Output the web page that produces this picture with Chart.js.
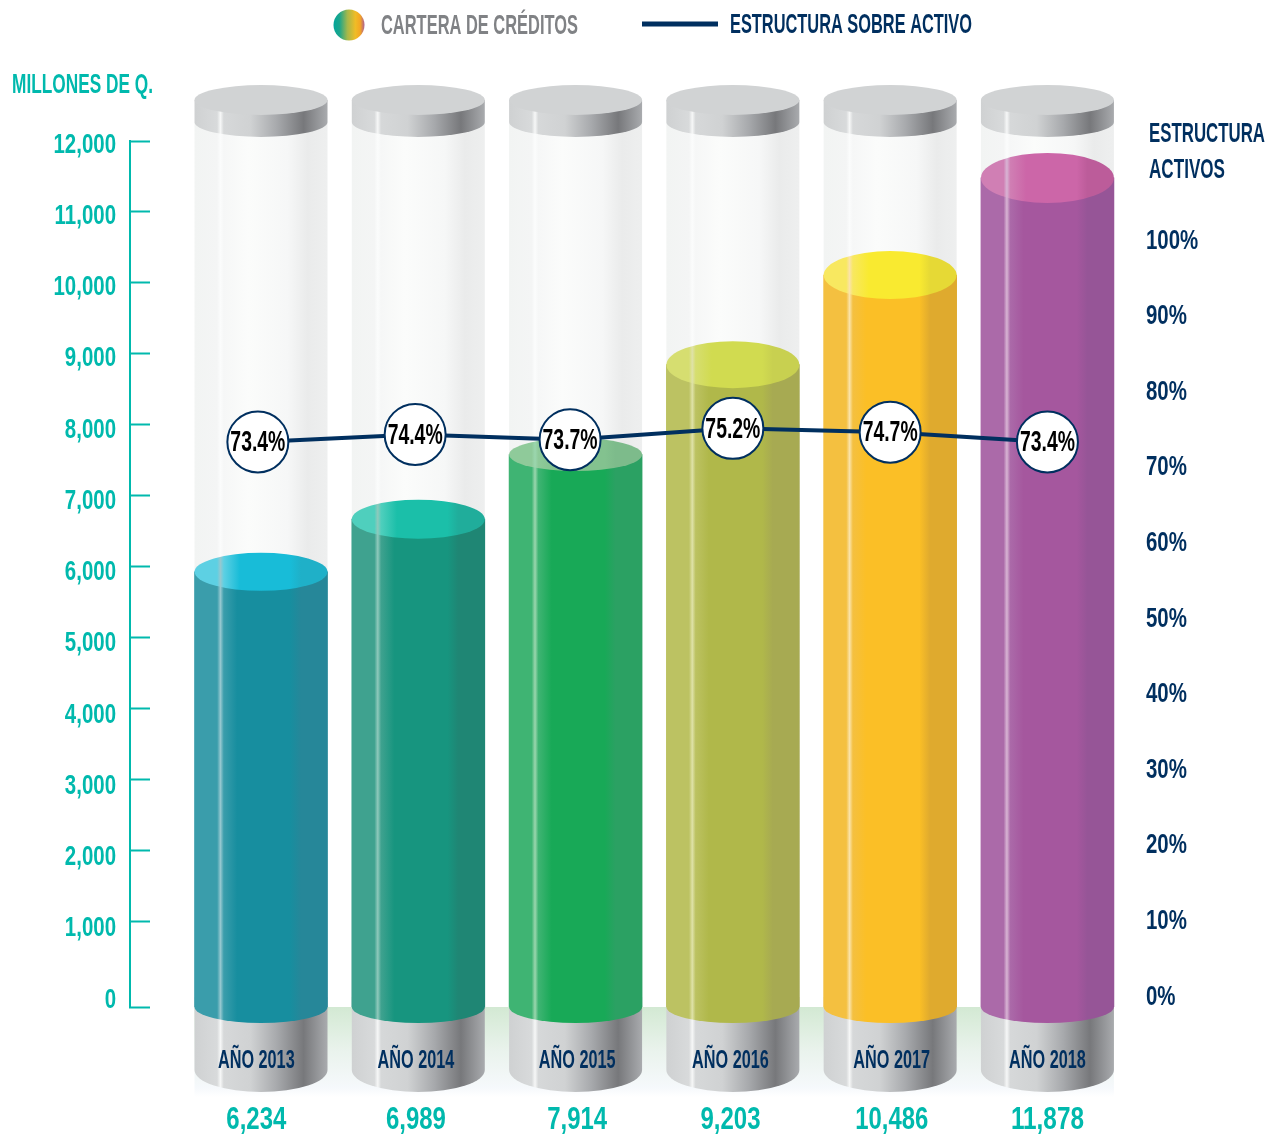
<!DOCTYPE html>
<html lang="es">
<head>
<meta charset="utf-8">
<title>Cartera de créditos</title>
<style>html,body{margin:0;padding:0;background:#fff}canvas{display:block}</style>
<script src="https://cdn.jsdelivr.net/npm/chart.js@4"></script>
</head>
<body>
<canvas id="c" width="1271" height="1134"></canvas>
<script>
const categories = ['AÑO 2013','AÑO 2014','AÑO 2015','AÑO 2016','AÑO 2017','AÑO 2018'];
const carteraValues = [6234, 6989, 7914, 9203, 10486, 11878];
const estructuraValues = [73.4, 74.4, 73.7, 75.2, 74.7, 73.4];
const estructuraSlots = [-0.02, -0.02, -0.035, 0, 0, 0];
const labelSlots = [-0.03, -0.015, 0.01, -0.015, 0.01, 0];
const leftTicks = [0,1000,2000,3000,4000,5000,6000,7000,8000,9000,10000,11000,12000];
const rightTicks = [0,10,20,30,40,50,60,70,80,90,100];

const TEAL = '#00b9ad', NAVY = '#002f5f', GREY = '#808285';
const FONT = '"Liberation Sans",sans-serif';
const themes = [
  {l:'#3a9dab', m:'#178e9f', r:'#268799', s:'#96c8d0', cl:'#5dd0e3', c:'#18bcd8', cr:'#1fb0c8', ry:19},
  {l:'#3fa28f', m:'#17957f', r:'#1f8674', s:'#8fc9bc', cl:'#4fcfbd', c:'#1bbfa9', cr:'#20ad9b', ry:19.5},
  {l:'#3fb473', m:'#18a957', r:'#2ba163', s:'#9bd6ae', cl:'#8fca9a', c:'#83c28f', cr:'#7dbb8b', ry:16.5},
  {l:'#bcc262', m:'#b0b84a', r:'#a7aa52', s:'#dfe2a8', cl:'#d6de70', c:'#d1db50', cr:'#c8d050', ry:23.5},
  {l:'#f4c040', m:'#fbbf26', r:'#dfaa2e', s:'#fbe3a8', cl:'#f8e860', c:'#f9ea30', cr:'#e6d935', ry:24},
  {l:'#ab6aa9', m:'#a5579e', r:'#965597', s:'#d8b4d4', cl:'#d07fb4', c:'#cc66a8', cr:'#bc5c9a', ry:25}
];
const HALF = 66.5, BODY = 133;
const SILVER = [[0,'#cfd1d2'],[.17,'#d8dadb'],[.195,'#f6f7f7'],[.22,'#d6d8d9'],[.42,'#d0d2d3'],[.62,'#a7a9ac'],[.82,'#77787b'],[1,'#a9abae']];
const GLASS = [[0,'#f2f4f3'],[.17,'#f4f5f5'],[.195,'#fbfcfc'],[.22,'#f6f7f7'],[.4,'#fbfcfb'],[.7,'#f6f7f7'],[.85,'#eaebeb'],[1,'#eeefef']];

function hGrad(ctx, x, stops){
  const g = ctx.createLinearGradient(x - HALF, 0, x + HALF, 0);
  stops.forEach(s => g.addColorStop(s[0], s[1]));
  return g;
}
function bodyStops(t){
  return [[0,t.l],[.17,t.l],[.195,t.s],[.22,t.l],[.32,t.m],[.72,t.m],[.8,t.r],[1,t.r]];
}
function capStops(t){
  return [[0,t.cl],[.17,t.cl],[.195,t.s],[.22,t.cl],[.34,t.c],[.72,t.c],[.8,t.cr],[1,t.cr]];
}
const rawFillText = CanvasRenderingContext2D.prototype.fillText;
function squeezed(ctx, text, x, y, font, color, width, align){
  ctx.save();
  ctx.font = font; ctx.fillStyle = color; ctx.textBaseline = 'middle';
  const w = ctx.measureText(text).width, k = width / w;
  ctx.translate(align === 'left' ? x : x - width / 2, y);
  ctx.scale(k, 1);
  ctx.textAlign = 'left';
  rawFillText.call(ctx, text, 0, 0);
  ctx.restore();
}
// Tick labels keep the reference's condensed proportions: each is narrowed around its anchor.
function condenseTicks(ctx){
  ctx.fillText = function(text, x, y){
    const k = /\b25px/.test(this.font) ? 0.65 : 0.73;
    this.save();
    this.translate(x, y);
    this.scale(k, 1);
    rawFillText.call(this, text, 0, 0);
    this.restore();
  };
}

const cylinders = {
  id: 'cylinders',
  beforeDatasetsDraw(chart){
    const ctx = chart.ctx, sx = chart.scales.x, base = chart.chartArea.bottom;
    ctx.save();
    const first = sx.getPixelForValue(0) - HALF, last = sx.getPixelForValue(5) + HALF;
    const strip = ctx.createLinearGradient(0, base, 0, base + 90);
    strip.addColorStop(0, '#d3e9d3'); strip.addColorStop(.5, '#eaf3ed');
    strip.addColorStop(.9, '#f6f9fc'); strip.addColorStop(1, '#ffffff');
    ctx.fillStyle = strip;
    ctx.fillRect(first, base, last - first, 90);
    categories.forEach((c, i) => {
      const x = sx.getPixelForValue(i);
      ctx.fillStyle = hGrad(ctx, x, SILVER);
      ctx.beginPath();
      ctx.moveTo(x - HALF, base - 10);
      ctx.lineTo(x + HALF, base - 10);
      ctx.lineTo(x + HALF, base + 63);
      ctx.ellipse(x, base + 63, HALF, 22, 0, 0, Math.PI);
      ctx.closePath();
      ctx.fill();
      ctx.fillStyle = hGrad(ctx, x, GLASS);
      ctx.fillRect(x - HALF, 122, BODY, base - 122);
    });
    ctx.restore();
  },
  afterDatasetDraw(chart, args){
    if (args.index !== 0) return;
    const ctx = chart.ctx, sx = chart.scales.x, sy = chart.scales.yBar, base = chart.chartArea.bottom;
    ctx.save();
    categories.forEach((c, i) => {
      const x = sx.getPixelForValue(i), t = themes[i], top = sy.getPixelForValue(carteraValues[i]);
      ctx.fillStyle = hGrad(ctx, x, bodyStops(t));
      ctx.beginPath();
      ctx.ellipse(x, base, HALF, 16, 0, 0, Math.PI);
      ctx.closePath();
      ctx.fill();
      ctx.fillStyle = hGrad(ctx, x, capStops(t));
      ctx.beginPath();
      ctx.ellipse(x, top, HALF, t.ry, 0, 0, Math.PI * 2);
      ctx.fill();
      ctx.fillStyle = hGrad(ctx, x, SILVER);
      ctx.beginPath();
      ctx.moveTo(x - HALF, 100);
      ctx.lineTo(x + HALF, 100);
      ctx.lineTo(x + HALF, 122);
      ctx.ellipse(x, 122, HALF, 15, 0, 0, Math.PI);
      ctx.closePath();
      ctx.fill();
      ctx.fillStyle = '#d1d3d4';
      ctx.beginPath();
      ctx.ellipse(x, 100, HALF, 15, 0, 0, Math.PI * 2);
      ctx.fill();
    });
    ctx.restore();
  },
  afterDatasetsDraw(chart){
    const ctx = chart.ctx, sx = chart.scales.x;
    chart.getDatasetMeta(1).data.forEach((p, i) => {
      squeezed(ctx, estructuraValues[i].toFixed(1) + '%', p.x, p.y + 1, 'bold 30px ' + FONT, '#000', 55);
    });
    carteraValues.forEach((v, i) => {
      squeezed(ctx, v.toLocaleString('en-US'), sx.getPixelForValue(i + labelSlots[i]), 1120, 'bold 32px ' + FONT, TEAL, v >= 10000 ? 73 : 60);
    });
    squeezed(ctx, 'MILLONES DE Q.', 12, 85, 'bold 28px ' + FONT, TEAL, 141, 'left');
    squeezed(ctx, 'ESTRUCTURA', 1149, 134, 'bold 28px ' + FONT, NAVY, 116, 'left');
    squeezed(ctx, 'ACTIVOS', 1149, 170, 'bold 28px ' + FONT, NAVY, 76, 'left');
    ctx.save();
    const lg = ctx.createLinearGradient(333, 0, 365, 0);
    [[0,'#00a59b'],[.2,'#1aa58c'],[.45,'#a5b84a'],[.7,'#f0bc26'],[.85,'#f5a623'],[1,'#a5579e']].forEach(s => lg.addColorStop(s[0], s[1]));
    ctx.fillStyle = lg;
    ctx.beginPath(); ctx.arc(349, 25, 15.5, 0, Math.PI * 2); ctx.fill();
    ctx.strokeStyle = NAVY; ctx.lineWidth = 5;
    ctx.beginPath(); ctx.moveTo(642, 24); ctx.lineTo(718, 24); ctx.stroke();
    ctx.restore();
    squeezed(ctx, 'CARTERA DE CRÉDITOS', 381, 26, 'bold 28px ' + FONT, GREY, 197, 'left');
    squeezed(ctx, 'ESTRUCTURA SOBRE ACTIVO', 730, 25, 'bold 28px ' + FONT, NAVY, 242, 'left');
  }
};

const canvas = document.getElementById('c');
condenseTicks(canvas.getContext('2d'));
new Chart(canvas, {
  data: {
    datasets: [
      {
        type: 'bar', label: 'Cartera de créditos', order: 1, yAxisID: 'yBar', xAxisID: 'x',
        data: carteraValues.map((v, i) => ({x: i, y: v})),
        barThickness: BODY, borderWidth: 0,
        backgroundColor(c){
          if (!c.chart.chartArea || !c.parsed) return themes[c.dataIndex || 0].m;
          return hGrad(c.chart.ctx, c.chart.scales.x.getPixelForValue(c.parsed.x), bodyStops(themes[c.dataIndex]));
        }
      },
      {
        type: 'line', label: 'Estructura sobre activo', order: 0, yAxisID: 'yR', xAxisID: 'x',
        data: estructuraValues.map((v, i) => ({x: i + estructuraSlots[i], y: v})),
        borderColor: NAVY, borderWidth: 4, tension: 0,
        pointRadius: 30.5, pointHoverRadius: 30.5,
        pointBackgroundColor: '#fff', pointBorderColor: NAVY, pointBorderWidth: 2
      }
    ]
  },
  options: {
    responsive: false, animation: false, events: [],
    layout: {padding: {top: 141, left: 0, right: 0, bottom: 0}},
    plugins: {legend: {display: false}, tooltip: {enabled: false}},
    scales: {
      x: {
        type: 'linear', offset: false, min: -0.833, max: 5.525,
        afterBuildTicks(s){ s.ticks = categories.map((c, i) => ({value: i + labelSlots[i]})); },
        afterFit(s){ s.height = 127; },
        grid: {display: false, offset: false}, border: {display: false},
        ticks: {
          autoSkip: false, maxRotation: 0, padding: 31, color: NAVY, z: 1,
          font: {family: FONT, size: 25, weight: 'bold'},
          callback: (v, i) => categories[i]
        }
      },
      yLabels: {
        type: 'linear', position: 'left', weight: 1,
        min: -98, max: 12056,
        afterBuildTicks(s){ s.ticks = leftTicks.map(v => ({value: v})); },
        afterFit(s){ s.width = 118; },
        grid: {display: false, drawTicks: false}, border: {display: false},
        ticks: {
          autoSkip: false, padding: 2, color: TEAL,
          font: {family: FONT, size: 28, weight: 'bold'},
          callback: v => v.toLocaleString('en-US')
        }
      },
      yAxis: {
        type: 'linear', position: 'left', weight: 0,
        min: -212, max: 12000,
        afterBuildTicks(s){ s.ticks = [s.min].concat(leftTicks.slice(1)).map(v => ({value: v})); },
        afterFit(s){ s.width = 12; },
        grid: {drawOnChartArea: false, drawTicks: true, tickLength: -20, tickWidth: 2, tickColor: TEAL},
        border: {display: true, color: TEAL, width: 2},
        ticks: {display: false, autoSkip: false}
      },
      yBar: {type: 'linear', display: false, min: 0, max: 12407},
      yR: {
        type: 'linear', position: 'right',
        min: -1.32, max: 113.2,
        afterBuildTicks(s){ s.ticks = rightTicks.map(v => ({value: v})); },
        afterFit(s){ s.width = 141; },
        grid: {display: false}, border: {display: false},
        ticks: {
          autoSkip: false, padding: 8, color: NAVY,
          font: {family: FONT, size: 28, weight: 'bold'},
          callback: v => v + '%'
        }
      }
    }
  },
  plugins: [cylinders]
});
</script>
</body>
</html>
